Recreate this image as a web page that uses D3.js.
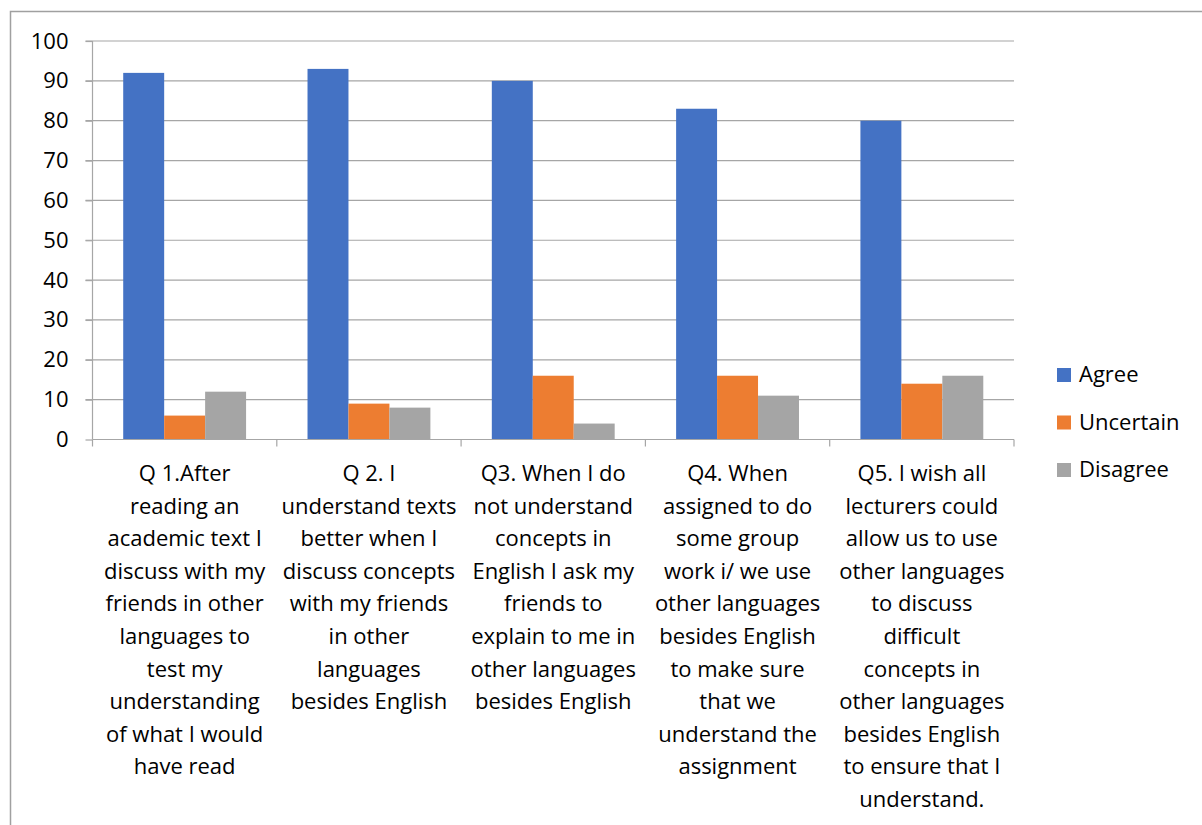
<!DOCTYPE html>
<html lang="en">
<head>
    <meta charset="UTF-8">
    <title>Language use survey</title>
    <script src="https://cdn.jsdelivr.net/npm/d3@7"></script>
    <style>
        body { margin: 0; background: #fff; }
        text { font-family: "Open Sans", "Noto Sans", sans-serif; fill: #000; }
    </style>
</head>
<body>
    <div id="chart-space"></div>

    <script>
        // data
        var questions = ["Q1", "Q2", "Q3", "Q4", "Q5"];
        var questionLabels = [
            ["Q 1.After", "reading an", "academic text I", "discuss with my", "friends in other", "languages to", "test my", "understanding", "of what I would", "have read"],
            ["Q 2. I", "understand texts", "better when I", "discuss concepts", "with my friends", "in other", "languages", "besides English"],
            ["Q3. When I do", "not understand", "concepts in", "English I ask my", "friends to", "explain to me in", "other languages", "besides English"],
            ["Q4. When", "assigned to do", "some group", "work i/ we use", "other languages", "besides English", "to make sure", "that we", "understand the", "assignment"],
            ["Q5. I wish all", "lecturers could", "allow us to use", "other languages", "to discuss", "difficult", "concepts in", "other languages", "besides English", "to ensure that I", "understand."]
        ];
        var seriesNames = ["Agree", "Uncertain", "Disagree"];
        var agree = [92, 93, 90, 83, 80];
        var uncertain = [6, 9, 16, 16, 14];
        var disagree = [12, 8, 4, 11, 16];
        var yTicks = [0, 10, 20, 30, 40, 50, 60, 70, 80, 90, 100];
        var colors = ["#4472c4", "#ed7d31", "#a5a5a5"];

        var width = 1202, height = 825;
        var plot = {left: 92.5, right: 1014, top: 41, bottom: 439.5};
        var fontSize = "22px";

        var svg = d3.select("#chart-space").append("svg")
            .attr("width", width)
            .attr("height", height);

        // chart frame (only left and top edges show in the picture)
        svg.append("path")
            .attr("d", "M10.5," + height + "V11.5H" + width)
            .attr("fill", "none")
            .attr("stroke", "#a0a0a0")
            .attr("stroke-width", 1.5);

        var x0 = d3.scaleBand()
            .domain(questions)
            .range([plot.left, plot.right]);

        // gap width 150% -> 0.75 bar width on each side of the group
        var x1 = d3.scaleBand()
            .domain(seriesNames)
            .range([x0.bandwidth() * 0.75 / 4.5, x0.bandwidth() * (1 - 0.75 / 4.5)])
            .padding(0);

        var y = d3.scaleLinear()
            .domain([0, 100])
            .range([plot.bottom, plot.top]);

        // gridlines
        svg.append("g")
            .selectAll("line")
            .data(yTicks.slice(1))
            .join("line")
            .attr("x1", plot.left - 7)
            .attr("x2", plot.right)
            .attr("y1", function(d) { return y(d); })
            .attr("y2", function(d) { return y(d); })
            .attr("stroke", "#a6a6a6")
            .attr("stroke-width", 1.2);

        var rows = questions.map(function(q, i) {
            return {q: q, values: [agree[i], uncertain[i], disagree[i]]};
        });

        svg.append("g")
            .selectAll("g")
            .data(rows)
            .join("g")
            .attr("transform", function(d) { return "translate(" + x0(d.q) + ",0)"; })
            .selectAll("rect")
            .data(function(d) { return d.values.map(function(v, j) { return {s: seriesNames[j], v: v, c: colors[j]}; }); })
            .join("rect")
            .attr("x", function(d) { return x1(d.s); })
            .attr("width", x1.bandwidth())
            .attr("y", function(d) { return y(d.v); })
            .attr("height", function(d) { return y(0) - y(d.v); })
            .attr("fill", function(d) { return d.c; });

        // y axis
        var yAxis = svg.append("g")
            .attr("transform", "translate(" + plot.left + ",0)")
            .call(d3.axisLeft(y).tickValues(yTicks).tickSize(7).tickPadding(17));
        yAxis.select(".domain").remove();
        yAxis.selectAll("line").attr("stroke", "#a6a6a6").attr("stroke-width", 1.2);
        yAxis.selectAll("text").style("font-size", fontSize).style("font-family", "'Open Sans', sans-serif").attr("fill", "#000");
        svg.append("line")
            .attr("x1", plot.left).attr("x2", plot.left)
            .attr("y1", plot.top).attr("y2", plot.bottom)
            .attr("stroke", "#a6a6a6").attr("stroke-width", 1.2);

        // x axis
        var xAxis = svg.append("g")
            .attr("transform", "translate(0," + plot.bottom + ")")
            .call(d3.axisBottom(x0).tickSize(0).tickFormat(""));
        xAxis.select(".domain").attr("stroke", "#a6a6a6").attr("stroke-width", 1.2)
            .attr("d", "M" + plot.left + ",0H" + plot.right);
        xAxis.selectAll(".tick").remove();

        var bounds = questions.map(function(q) { return x0(q); }).concat([plot.right]);
        svg.append("g")
            .selectAll("line")
            .data(bounds)
            .join("line")
            .attr("x1", function(d) { return d; })
            .attr("x2", function(d) { return d; })
            .attr("y1", plot.bottom)
            .attr("y2", plot.bottom + 7)
            .attr("stroke", "#a6a6a6").attr("stroke-width", 1.2);

        // wrapped category labels
        svg.append("g")
            .selectAll("text")
            .data(questions)
            .join("text")
            .attr("text-anchor", "middle")
            .style("font-size", fontSize)
            .attr("transform", function(d) { return "translate(" + (x0(d) + x0.bandwidth() / 2) + ",481)"; })
            .selectAll("tspan")
            .data(function(d, i) { return questionLabels[i]; })
            .join("tspan")
            .attr("x", 0)
            .attr("y", function(d, i) { return i * 32.6; })
            .text(function(d) { return d; });

        // legend
        var legend = svg.append("g")
            .selectAll("g")
            .data(seriesNames)
            .join("g")
            .attr("transform", function(d, i) { return "translate(1057," + (368 + i * 47.5) + ")"; });
        legend.append("rect")
            .attr("width", 14)
            .attr("height", 14)
            .attr("fill", function(d, i) { return colors[i]; });
        legend.append("text")
            .attr("x", 22)
            .attr("y", 14)
            .style("font-size", fontSize)
            .text(function(d) { return d; });
    </script>
</body>
</html>
